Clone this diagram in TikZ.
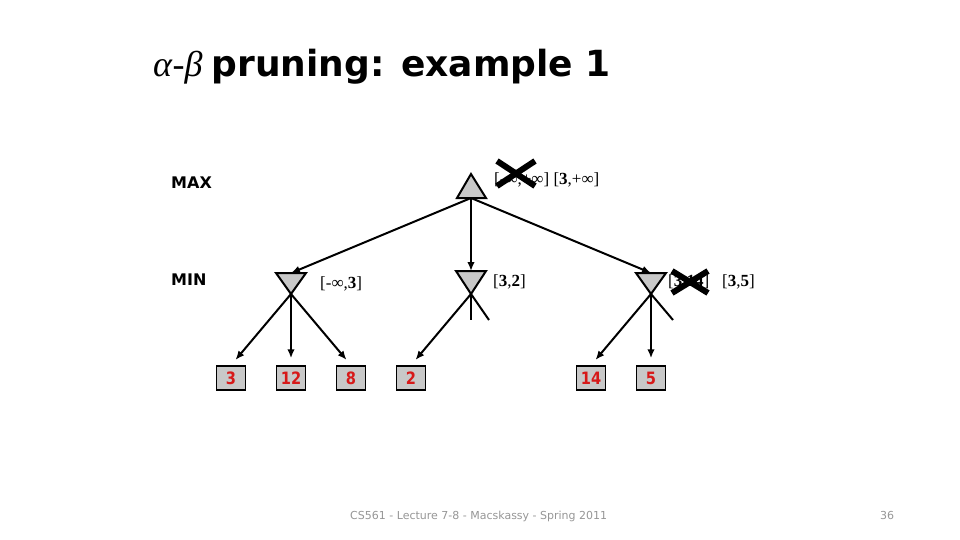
\documentclass[tikz,border=0pt]{standalone}
\usepackage{fontspec}
\setmainfont{Liberation Serif}
\newfontfamily\headfont{DejaVu Sans}
\newfontfamily\numfont[FakeStretch=0.86]{DejaVu Sans}
\usetikzlibrary{arrows.meta}
\definecolor{nodegray}{RGB}{200,200,200}
\definecolor{valred}{RGB}{215,25,25}
\definecolor{footgray}{RGB}{150,150,150}
\tikzset{
  tri/.style={draw=black,fill=nodegray,line width=2pt,line join=miter},
  arr/.style={-{Latex[length=9pt,width=7.5pt]},line width=2pt},
  stub/.style={line width=2pt},
  valbox/.style={draw=black,fill=nodegray,line width=1.5pt,minimum width=29pt,minimum height=24pt,inner sep=0pt,text=valred,font=\numfont\bfseries\fontsize{17}{17}\selectfont},
  bound/.style={anchor=base west,inner sep=0pt,font=\fontsize{17}{17}\selectfont},
  cross/.style={line width=6pt},
  level/.style={anchor=base west,inner sep=0pt,font=\headfont\bfseries\fontsize{16}{16}\selectfont},
  foot/.style={anchor=base west,inner sep=0pt,text=footgray,font=\headfont\fontsize{11}{11}\selectfont}
}
\begin{document}
\begin{tikzpicture}[x=1pt,y=-1pt]
  \useasboundingbox (0,0) rectangle (960,540);
  % title
  \node[anchor=base west,inner sep=0pt] (title) at (153,77)
    {\fontsize{36}{36}\selectfont\textit{α}-\textit{β} {\headfont\bfseries pruning: example 1}};
  \node[level] (maxlab) at (171,188) {MAX};
  \node[level] (minlab) at (171,285) {MIN};
  % MAX node
  \filldraw[tri] (457,198) -- (471,174) -- (486,198) -- cycle;
  \coordinate (maxb) at (471,198);
  % MIN nodes
  \filldraw[tri] (276,273) -- (306,273) -- (291,294) -- cycle;
  \filldraw[tri] (456,271) -- (486,271) -- (471,294) -- cycle;
  \filldraw[tri] (636,273) -- (666,273) -- (651,294) -- cycle;
  \coordinate (min1t) at (291,273);
  \coordinate (min2t) at (471,271);
  \coordinate (min3t) at (651,273);
  \coordinate (min1) at (291,294);
  \coordinate (min2) at (471,294);
  \coordinate (min3) at (651,294);
  \draw[arr] (maxb) -- (min1t);
  \draw[arr] (maxb) -- (min2t);
  \draw[arr] (maxb) -- (min3t);
  % leaves
  \node[valbox] (b3) at (231,378) {3};
  \node[valbox] (b12) at (291,378) {12};
  \node[valbox] (b8) at (351,378) {8};
  \node[valbox] (b2) at (411,378) {2};
  \node[valbox] (b14) at (591,378) {14};
  \node[valbox] (b5) at (651,378) {5};
  \draw[arr,shorten >=7pt] (min1) -- (b3.north);
  \draw[arr,shorten >=7pt] (min1) -- (b12.north);
  \draw[arr,shorten >=7pt] (min1) -- (b8.north);
  \draw[arr,shorten >=7pt] (min2) -- (b2.north);
  \draw[arr,shorten >=7pt] (min3) -- (b14.north);
  \draw[arr,shorten >=7pt] (min3) -- (b5.north);
  % pruned branches
  \coordinate (p1) at (471,320);
  \coordinate (p2) at (489,320);
  \coordinate (p3) at (673,320);
  \draw[stub] (min2) -- (p1);
  \draw[stub] (min2) -- (p2);
  \draw[stub] (min3) -- (p3);
  % bounds
  \node[bound] (bmax) at (494,184) {[-∞,+∞] [\textbf{3},+∞]};
  \node[bound] (bmin1) at (320,288) {[-∞,\textbf{3}]};
  \node[bound] (bmin2) at (493,286) {[\textbf{3},\textbf{2}]};
  \node[bound] (bmin3a) at (668,286) {[\textbf{3},\textbf{14}]};
  \node[bound] (bmin3b) at (722,286) {[\textbf{3},\textbf{5}]};
  \draw[cross] (497,161) -- (535,186);
  \draw[cross] (535,161) -- (497,186);
  \draw[cross] (672,271) -- (708,293);
  \draw[cross] (708,271) -- (672,293);
  % footer
  \node[foot] (footer) at (350,519) {CS561 - Lecture 7-8 - Macskassy - Spring 2011};
  \node[foot] (page) at (880,519) {36};
\end{tikzpicture}
\end{document}
